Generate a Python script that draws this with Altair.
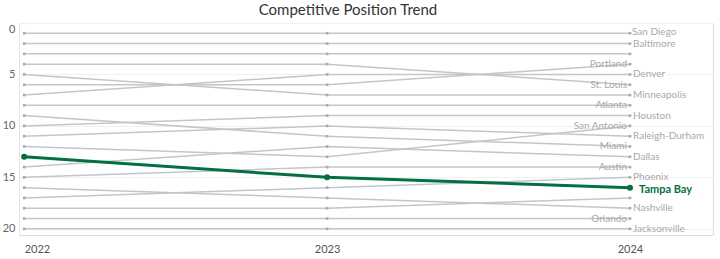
import altair as alt
import pandas as pd

# ---- data ----
years = [2022, 2023, 2024]
cities = ["San Diego", "Baltimore", "Unlabeled (rank 3)", "Portland", "Denver",
          "St. Louis", "Minneapolis", "Atlanta", "Houston", "San Antonio",
          "Raleigh-Durham", "Miami", "Dallas", "Austin", "Phoenix",
          "Tampa Bay", "Unlabeled (rank 17)", "Nashville", "Orlando", "Jacksonville"]
rank_2022 = [1, 2, 3, 6, 7, 4, 5, 8, 10, 12, 11, 9, 14, 15, 17, 13, 18, 16, 19, 20]
rank_2023 = [1, 2, 3, 6, 5, 4, 7, 8, 9, 13, 10, 11, 12, 14, 16, 15, 18, 17, 19, 20]
rank_2024 = [1, 2, 3, 4, 5, 6, 7, 8, 9, 10, 11, 12, 13, 14, 15, 16, 17, 18, 19, 20]
right_labels = ["Baltimore", "Denver", "Minneapolis", "Houston",
                "Raleigh-Durham", "Dallas", "Phoenix", "Nashville", "Jacksonville"]
top_label = ["San Diego"]
left_labels = ["Portland", "St. Louis", "Atlanta", "San Antonio", "Miami",
               "Austin", "Orlando"]
highlight = "Tampa Bay"
y_ticks = [0, 5, 10, 15, 20]

rows = []
for c, r1, r2, r3 in zip(cities, rank_2022, rank_2023, rank_2024):
    for yr, r in zip(years, [r1, r2, r3]):
        rows.append({"city": c, "year": yr, "rank": r})
df = pd.DataFrame(rows)

lab = pd.DataFrame({"city": cities, "year": [years[-1]] * len(cities), "rank": rank_2024})

FONT = "Lato"
GRAY_LINE = "#c2c6cb"
GRAY_PT = "#a8acb1"
GREEN = "#05703f"
LABEL_GRAY = "#a9a9a9"

x_enc = alt.X("year:Q",
              scale=alt.Scale(domain=[2021.983, 2024.274], nice=False, zero=False),
              axis=alt.Axis(values=years, format="d", title=None, grid=False,
                            domain=False, ticks=False, labelFlush=10,
                            labelPadding=8, labelColor="#555555",
                            labelFontSize=11, labelFont=FONT))
y_enc = alt.Y("rank:Q",
              scale=alt.Scale(domain=[0, 20.6], reverse=True, nice=False, zero=False),
              axis=alt.Axis(values=y_ticks, title=None, grid=True,
                            gridColor="#f1f1f1", domainColor="#e4e4e4",
                            ticks=False, labelFlush=1, labelFlushOffset=0,
                            labelPadding=4, labelColor="#666666",
                            labelFontSize=11, labelFont=FONT))

base = alt.Chart(df).encode(x=x_enc, y=y_enc)

gray_lines = base.transform_filter(alt.datum.city != highlight).mark_line(
    color=GRAY_LINE, strokeWidth=1.5).encode(detail="city:N")
gray_pts = base.transform_filter(alt.datum.city != highlight).mark_point(
    shape="square", filled=True, size=7, color=GRAY_PT, opacity=1)
green_line = base.transform_filter(alt.datum.city == highlight).mark_line(
    color=GREEN, strokeWidth=3)
green_pts = base.transform_filter(alt.datum.city == highlight).mark_circle(
    size=36, color=GREEN, opacity=1)

lbase = alt.Chart(lab).encode(x=alt.X("year:Q"), y=alt.Y("rank:Q"), text="city:N")
right_txt = lbase.transform_filter(
    alt.FieldOneOfPredicate(field="city", oneOf=right_labels)).mark_text(
    align="left", baseline="middle", dx=3, fontSize=10, font=FONT, color=LABEL_GRAY)
top_txt = lbase.transform_filter(
    alt.FieldOneOfPredicate(field="city", oneOf=top_label)).mark_text(
    align="left", baseline="middle", dx=2, dy=-1.5, fontSize=10, font=FONT,
    color=LABEL_GRAY)
left_txt = lbase.transform_filter(
    alt.FieldOneOfPredicate(field="city", oneOf=left_labels)).mark_text(
    align="right", baseline="middle", dx=-3, fontSize=10, font=FONT, color=LABEL_GRAY)
hl_txt = lbase.transform_filter(alt.datum.city == highlight).mark_text(
    align="left", baseline="middle", dx=9, dy=2, fontSize=11, font=FONT,
    fontWeight="bold", color=GREEN)

chart = alt.layer(gray_lines, gray_pts, left_txt, green_line, green_pts,
                  right_txt, top_txt, hl_txt).properties(
    width=694, height=212,
    title=alt.TitleParams("Competitive Position Trend", fontSize=15, font=FONT,
                          fontWeight="normal", color="#333333", anchor="middle",
                          dx=-18, offset=5),
    autosize=alt.AutoSizeParams(type="none"),
    padding={"left": 19, "top": 23, "right": 7, "bottom": 24},
).configure_view(stroke=None).configure(background="white")

chart.save("out.html", embed_options={"renderer": "svg", "actions": False})
